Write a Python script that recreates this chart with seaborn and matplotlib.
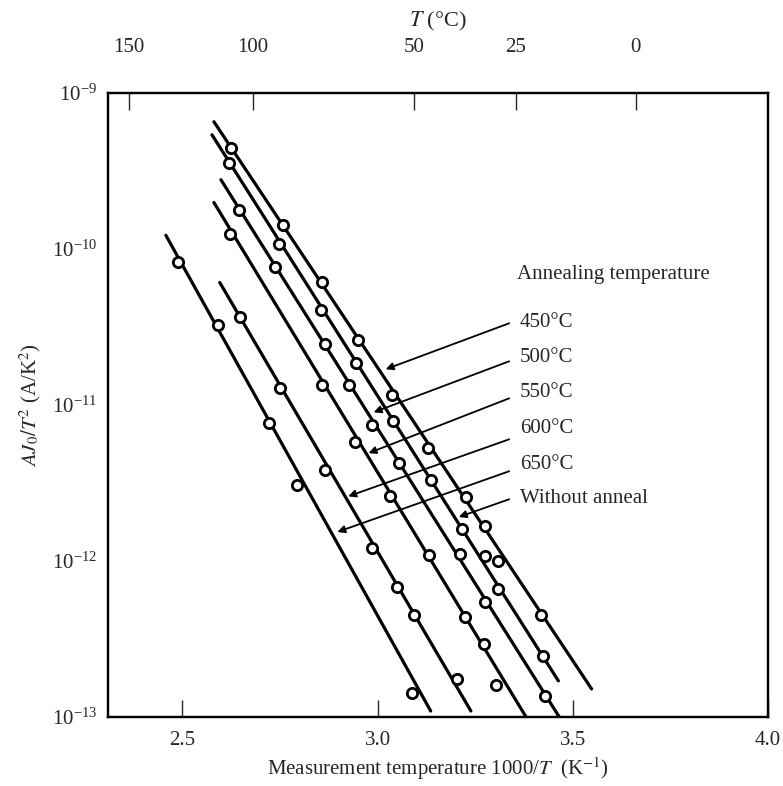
import numpy as np
import pandas as pd
import seaborn as sns
import matplotlib.pyplot as plt
from matplotlib.ticker import FixedLocator, NullLocator, LogFormatterMathtext

# measured points, 1000/T (K^-1) and AJ0/T^2 (A/K^2)
x_450 = [2.625, 2.758, 2.859, 2.949, 3.036, 3.129, 3.226, 3.275, 3.308, 3.419]
y_450 = [4.45e-10, 1.41e-10, 6.08e-11, 2.59e-11, 1.15e-11, 5.27e-12, 2.56e-12, 1.67e-12, 1.00e-12, 4.50e-13]

x_none = [2.620, 2.748, 2.856, 2.946, 3.039, 3.136, 3.216, 3.275, 3.308, 3.424]
y_none = [3.56e-10, 1.08e-10, 4.08e-11, 1.85e-11, 7.83e-12, 3.29e-12, 1.60e-12, 1.07e-12, 6.59e-13, 2.45e-13]

x_500 = [2.645, 2.738, 2.866, 2.928, 2.987, 3.054, 3.211, 3.275, 3.429]
y_500 = [1.78e-10, 7.59e-11, 2.44e-11, 1.33e-11, 7.40e-12, 4.23e-12, 1.10e-12, 5.45e-13, 1.36e-13]

x_550 = [2.622, 2.859, 2.941, 3.033, 3.131, 3.224, 3.272, 3.303]
y_550 = [1.25e-10, 1.33e-11, 5.75e-12, 2.59e-12, 1.09e-12, 4.37e-13, 2.93e-13, 1.60e-13]

x_600 = [2.648, 2.751, 2.866, 2.987, 3.051, 3.093, 3.203]
y_600 = [3.63e-11, 1.28e-11, 3.81e-12, 1.21e-12, 6.79e-13, 4.50e-13, 1.75e-13]

x_650 = [2.488, 2.591, 2.722, 2.794, 3.087]
y_650 = [8.28e-11, 3.27e-11, 7.62e-12, 3.05e-12, 1.43e-13]

# fitted straight lines (start, end)
fit_x = {'450°C': [2.581, 3.548], 'Without anneal': [2.576, 3.463], '500°C': [2.599, 3.465],
         '550°C': [2.581, 3.380], '600°C': [2.596, 3.239], '650°C': [2.458, 3.136]}
fit_y = {'450°C': [6.52e-10, 1.51e-13], 'Without anneal': [5.38e-10, 1.70e-13], '500°C': [2.77e-10, 1.0e-13],
         '550°C': [1.98e-10, 1.0e-13], '600°C': [6.08e-11, 1.09e-13], '650°C': [1.22e-10, 1.09e-13]}

labels = ['450°C', '500°C', '550°C', '600°C', '650°C', 'Without anneal']
top_T = [150, 100, 50, 25, 0]

points = pd.concat([
    pd.DataFrame({'x': x_450, 'y': y_450, 'anneal': '450°C'}),
    pd.DataFrame({'x': x_none, 'y': y_none, 'anneal': 'Without anneal'}),
    pd.DataFrame({'x': x_500, 'y': y_500, 'anneal': '500°C'}),
    pd.DataFrame({'x': x_550, 'y': y_550, 'anneal': '550°C'}),
    pd.DataFrame({'x': x_600, 'y': y_600, 'anneal': '600°C'}),
    pd.DataFrame({'x': x_650, 'y': y_650, 'anneal': '650°C'}),
], ignore_index=True)

lines = pd.concat([pd.DataFrame({'x': fit_x[k], 'y': fit_y[k], 'anneal': k}) for k in fit_x],
                  ignore_index=True)

# label text y, arrow start and arrow tip (x, y)
arrows = {
    '450°C': (3.37e-11, (3.337, 3.33e-11), (3.021, 1.69e-11)),
    '500°C': (2.01e-11, (3.337, 1.90e-11), (2.990, 8.95e-12)),
    '550°C': (1.20e-11, (3.337, 1.10e-11), (2.977, 4.90e-12)),
    '600°C': (7.08e-12, (3.337, 6.01e-12), (2.925, 2.59e-12)),
    '650°C': (4.16e-12, (3.337, 3.75e-12), (2.897, 1.53e-12)),
    'Without anneal': (2.52e-12, (3.337, 2.48e-12), (3.208, 1.91e-12)),
}

sns.set_theme(style='ticks')
plt.rcParams['font.family'] = ['Liberation Serif', 'DejaVu Serif']
plt.rcParams['mathtext.fontset'] = 'stix'
fs = 15

fig = plt.figure(figsize=(7.83, 7.86), dpi=100)
ax = fig.add_axes([0.138, 0.088, 0.843, 0.794])

sns.lineplot(data=lines, x='x', y='y', units='anneal', estimator=None, sort=False,
             color='black', lw=2.3, ax=ax)
sns.scatterplot(data=points, x='x', y='y', marker='o', s=55, color='white',
                edgecolor='black', linewidth=2.0, ax=ax, zorder=3)

ax.set_yscale('log')
ax.set_xlim(2.31, 4.0)
ax.set_ylim(1e-13, 1e-9)
ax.xaxis.set_major_locator(FixedLocator([2.5, 3.0, 3.5, 4.0]))
ax.set_xticklabels(['2.5', '3.0', '3.5', '4.0'])
ax.yaxis.set_major_locator(FixedLocator([1e-13, 1e-12, 1e-11, 1e-10, 1e-9]))
ax.yaxis.set_major_formatter(LogFormatterMathtext())
ax.yaxis.set_minor_locator(NullLocator())
ax.tick_params(axis='x', direction='in', length=12, width=1, labelsize=fs, pad=10)
ax.tick_params(axis='y', direction='in', length=0, labelsize=fs, pad=8)

ax.set_xlabel(r'Measurement temperature 1000/$T$  (K$^{-1}$)', fontsize=fs, labelpad=4)
ax.set_ylabel(r'$AJ_0/T^2$ (A/K$^2$)', fontsize=fs, labelpad=6)

ax2 = ax.twiny()
ax2.set_xlim(ax.get_xlim())
ax2.xaxis.set_major_locator(FixedLocator([1000 / (t + 273.15) for t in top_T]))
ax2.set_xticklabels([str(t) for t in top_T])
ax2.tick_params(axis='x', direction='in', length=12, width=1, labelsize=fs, pad=26)
ax2.set_xlabel(r'$T$ (°C)', fontsize=fs + 1, labelpad=8)

for a in (ax, ax2):
    for sp in a.spines.values():
        sp.set_linewidth(1.6)
        sp.set_color('black')

ax.text(3.357, 6.84e-11, 'Annealing temperature', fontsize=fs, va='center', ha='left')
for lab in labels:
    ty, start, tip = arrows[lab]
    ax.text(3.365, ty, lab, fontsize=fs, va='center', ha='left')
    ax.annotate('', xy=tip, xytext=start,
                arrowprops=dict(arrowstyle='-|>', color='black', lw=1.3,
                                mutation_scale=11, shrinkA=0, shrinkB=0))

fig.savefig('out.png', dpi=100)
